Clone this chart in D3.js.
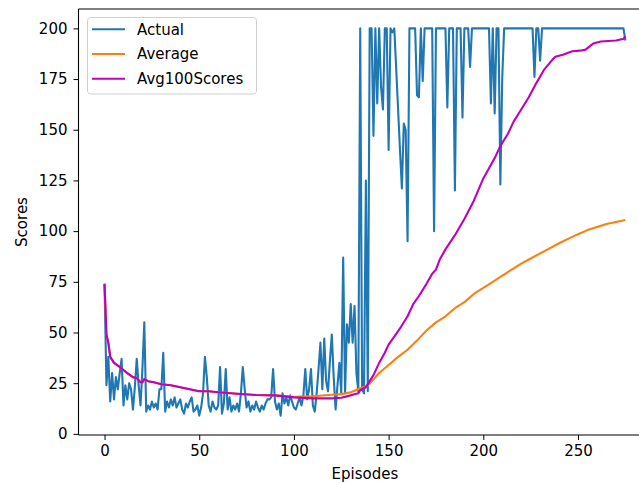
<!DOCTYPE html>
<html>
<head>
<meta charset="utf-8">
<script src="https://cdn.jsdelivr.net/npm/d3@7"></script>
<style>
  body { margin: 0; background: #fff; }
  text { font-family: "DejaVu Sans", sans-serif; }
</style>
</head>
<body>
<div id="chart-area"></div>
<script>
// scores per episode (index = episode)
var actual = [
  74, 24, 38, 16, 30, 17, 28, 22, 30, 37,
  14, 24, 17, 25, 22, 12, 23, 37, 24, 14,
  32, 55, 11, 14, 12, 16, 13, 15, 12, 22,
  22, 40, 11, 16, 13, 17, 14, 18, 13, 15,
  17, 12, 10, 15, 13, 16, 18, 11, 12, 14,
  9, 13, 20, 38, 28, 14, 11, 16, 13, 12,
  14, 33, 10, 15, 32, 12, 18, 11, 14, 12,
  15, 11, 20, 33, 22, 13, 16, 11, 14, 12,
  16, 13, 11, 14, 12, 15, 17, 17, 18, 32,
  16, 12, 15, 9, 20, 15, 18, 14, 19, 16,
  13, 12, 15, 18, 14, 19, 32, 17, 22, 32,
  14, 11, 20, 32, 45, 22, 47, 26, 21, 36,
  49, 28, 12, 24, 35, 20, 87, 20, 54, 45,
  64, 45, 63, 30, 21, 200, 22, 20, 125, 21,
  200, 200, 147, 200, 163, 200, 171, 160, 200, 200,
  140, 200, 198, 200, 180, 160, 140, 121, 153, 150,
  95, 200, 200, 200, 200, 167, 166, 200, 174, 200,
  200, 200, 200, 200, 100, 200, 200, 200, 200, 200,
  200, 161, 200, 200, 200, 120, 200, 200, 200, 156,
  200, 200, 200, 181, 200, 200, 200, 200, 200, 200,
  200, 200, 200, 200, 163, 200, 158, 200, 200, 123,
  176, 200, 200, 200, 200, 200, 200, 200, 200, 200,
  200, 200, 200, 200, 200, 200, 200, 176, 200, 200,
  184, 200, 200, 200, 200, 200, 200, 200, 200, 200,
  200, 200, 200, 200, 200, 200, 200, 200, 200, 200,
  200, 200, 200, 200, 200, 200, 200, 200, 200, 200,
  200, 200, 200, 200, 200, 200, 200, 200, 200, 200,
  200, 200, 200, 200, 200, 194
];

// running average
var avgEpisodes = [0, 1, 2, 3, 5, 8, 10, 12, 15, 17, 19, 20, 21, 23, 26, 30, 35, 40, 45, 50, 55, 60, 70, 80, 90,
  100, 105, 110, 115, 120, 125, 130, 135, 138, 140, 145, 150, 155, 160, 165, 170, 175, 180, 185, 190, 195,
  200, 205, 210, 215, 220, 225, 230, 235, 240, 245, 250, 255, 260, 265, 270, 275];
var avgValues = [74, 49, 45, 38, 35, 33, 31.5, 30, 28, 27.5, 25.5, 25.5, 27, 26, 25.5, 24.5, 24, 23, 22, 21, 21, 20.5, 19.8, 19.2, 19,
  18.3, 18.4, 18.5, 18.9, 19.3, 19.6, 20.5, 22.5, 23.5, 24.8, 30, 34, 38, 41.5, 46, 51, 55, 58, 62, 65, 69,
  72, 75, 78, 81, 84, 86.5, 89, 91.5, 94, 96.3, 98.5, 100.5, 102, 103.5, 104.5, 105.5];

// average of the last 100 scores
var avg100Episodes = [0, 1, 2, 3, 5, 8, 10, 12, 15, 17, 19, 20, 21, 23, 26, 30, 35, 40, 45, 50, 55, 60, 70, 80, 90,
  100, 110, 120, 125, 128, 132, 134, 135, 138, 140, 142, 145, 148, 150, 153, 156, 160, 163, 166, 170, 173, 175, 177,
  180, 185, 190, 195, 200, 203, 206, 209, 213, 216, 220, 224, 228, 232, 236, 238, 242, 247, 251, 254, 258, 262,
  266, 270, 273, 274, 275];
var avg100Values = [74, 49, 45, 38, 35, 33, 31.5, 30, 28, 27.5, 25.5, 25.5, 27, 26, 25.5, 24.5, 24, 23, 22, 21, 21, 20.5, 19.8, 19.2, 19,
  18, 17.5, 17.5, 17.8, 18.5, 19.5, 20, 21.5, 23, 26, 29, 35, 40, 44, 48, 52, 58, 64, 68, 74, 79, 81, 86,
  91, 98, 106, 115, 126, 131, 136, 142, 148, 154, 160, 166, 173, 179.5, 184, 186, 187, 188.7, 189, 189.5, 192.5, 193.5,
  193.8, 194, 194.6, 194.8, 196];

var xTicks = [0, 50, 100, 150, 200, 250];
var yTicks = [0, 25, 50, 75, 100, 125, 150, 175, 200];
var seriesNames = ["Actual", "Average", "Avg100Scores"];
var seriesColors = ["#1f77b4", "#ff7f0e", "#bf00bf"];

var W = 639, H = 483;
var plotLeft = 78.5, plotRight = 651.4, plotTop = 9, plotBottom = 435;

var svg = d3.select("#chart-area")
  .append("svg")
  .attr("width", W)
  .attr("height", H)
  .style("display", "block");

svg.append("rect").attr("width", W).attr("height", H).attr("fill", "#fff");

var x = d3.scaleLinear().domain([-13.75, 288.75]).range([plotLeft, plotRight]);
var y = d3.scaleLinear().domain([-0.55, 209.55]).range([plotBottom, plotTop]);

svg.append("clipPath").attr("id", "clip")
  .append("rect")
  .attr("x", plotLeft).attr("y", plotTop)
  .attr("width", plotRight - plotLeft).attr("height", plotBottom - plotTop);

// axes
var xAxis = svg.append("g")
  .attr("transform", "translate(0," + plotBottom + ")")
  .call(d3.axisBottom(x).tickValues(xTicks).tickSize(5).tickPadding(5));
var yAxis = svg.append("g")
  .attr("transform", "translate(" + plotLeft + ",0)")
  .call(d3.axisLeft(y).tickValues(yTicks).tickSize(5).tickPadding(6));

[xAxis, yAxis].forEach(function (g) {
  g.select(".domain").remove();
  g.selectAll("line").attr("stroke", "#000").attr("stroke-width", 1);
  g.selectAll("text").attr("fill", "#000").style("font-size", "15px");
});

// spines
svg.append("line").attr("x1", plotLeft).attr("x2", plotLeft).attr("y1", plotTop).attr("y2", plotBottom)
  .attr("stroke", "#000").attr("stroke-width", 1.1);
svg.append("line").attr("x1", plotLeft).attr("x2", W).attr("y1", plotBottom).attr("y2", plotBottom)
  .attr("stroke", "#000").attr("stroke-width", 1.1);
svg.append("line").attr("x1", plotLeft).attr("x2", W).attr("y1", plotTop).attr("y2", plotTop)
  .attr("stroke", "#000").attr("stroke-width", 1.1);

// lines
var plot = svg.append("g").attr("clip-path", "url(#clip)");

var lineIdx = d3.line()
  .x(function (d, i) { return x(i) })
  .y(function (d) { return y(d) });

var linePairs = d3.line()
  .x(function (d) { return x(d[0]) })
  .y(function (d) { return y(d[1]) });

plot.append("path")
  .datum(actual)
  .attr("d", lineIdx)
  .attr("fill", "none")
  .attr("stroke", seriesColors[0])
  .attr("stroke-width", 2.1)
  .attr("stroke-linejoin", "round");

plot.append("path")
  .datum(d3.zip(avgEpisodes, avgValues))
  .attr("d", linePairs)
  .attr("fill", "none")
  .attr("stroke", seriesColors[1])
  .attr("stroke-width", 2.1)
  .attr("stroke-linejoin", "round");

plot.append("path")
  .datum(d3.zip(avg100Episodes, avg100Values))
  .attr("d", linePairs)
  .attr("fill", "none")
  .attr("stroke", seriesColors[2])
  .attr("stroke-width", 2.1)
  .attr("stroke-linejoin", "round");

// axis labels
svg.append("text")
  .attr("x", (plotLeft + plotRight) / 2)
  .attr("y", 479)
  .attr("text-anchor", "middle")
  .style("font-size", "15px")
  .text("Episodes");

svg.append("text")
  .attr("transform", "translate(27," + ((plotTop + plotBottom) / 2) + ") rotate(-90)")
  .attr("text-anchor", "middle")
  .style("font-size", "15px")
  .text("Scores");

// legend
var legend = svg.append("g");
legend.append("rect")
  .attr("x", 87.5).attr("y", 17.5)
  .attr("width", 169).attr("height", 76.5)
  .attr("rx", 3)
  .attr("fill", "#fff").attr("fill-opacity", 0.8)
  .attr("stroke", "#d0d0d0");

seriesNames.forEach(function (name, i) {
  var ly = 29.3 + i * 24.7;
  legend.append("line")
    .attr("x1", 92).attr("x2", 125)
    .attr("y1", ly).attr("y2", ly)
    .attr("stroke", seriesColors[i]).attr("stroke-width", 2);
  legend.append("text")
    .attr("x", 137).attr("y", ly + 5.3)
    .style("font-size", "15px")
    .text(name);
});
</script>
</body>
</html>
